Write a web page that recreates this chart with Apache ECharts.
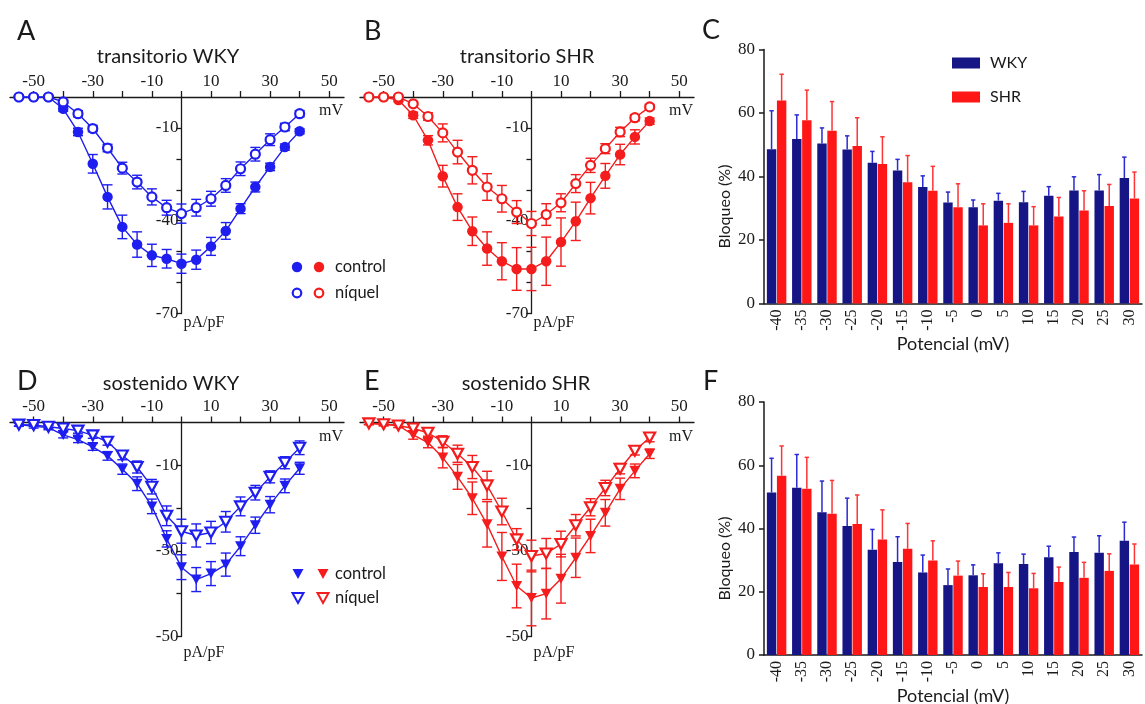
<!DOCTYPE html>
<html>
<head>
<meta charset="utf-8">
<script src="https://cdn.jsdelivr.net/npm/echarts@6/dist/echarts.min.js"></script>
<style>
html,body{margin:0;padding:0;background:#fff}
#main{width:1145px;height:704px}
</style>
</head>
<body>
<div id="main"></div>
<script>
// voltages (mV) for the I-V curves
var mV = [-55,-50,-45,-40,-35,-30,-25,-20,-15,-10,-5,0,5,10,15,20,25,30,35,40];
var ivXTicks = [-50,-40,-30,-20,-10,0,10,20,30,40,50];
var ivXLabels = [-50,-30,-10,10,30,50];

// A: transitorio WKY
var aCtrl = [0,0,0,-3.8,-11.3,-21.6,-32.3,-42,-47.7,-51.2,-52.3,-53.9,-52.6,-48.3,-43.3,-36.1,-29.1,-22.6,-16.2,-11.1];
var aCtrlErr = [0.3,0.3,0.5,0.8,1.2,3,3.9,3.8,4.1,3.6,3,3.1,3.1,2.9,2.7,1.6,1.6,1.2,1,0.8];
var aNiq = [0,0,0,-1.6,-5.4,-10.2,-16.5,-23,-27.5,-32.3,-35.8,-37.7,-35.8,-32.9,-28.6,-23.2,-18.5,-13.8,-9.7,-5.4];
var aNiqErr = [0.3,0.3,0.3,0.5,1,1,1.2,1.9,2.2,2.6,2.4,3.1,2.7,2.4,2.2,2.2,2.2,1.9,1.2,1];

// B: transitorio SHR
var bCtrl = [0,0,-1,-5.9,-14,-25.6,-35.6,-43.4,-49,-53.1,-55.6,-55.6,-53.1,-46.9,-40.2,-32.7,-25.5,-18.6,-12.9,-7.8];
var bCtrlErr = [0.3,0.3,0.5,1,1.5,3.5,4.3,4.6,5.4,6,6.9,7,7.8,7.8,6.2,5.1,4,3.3,2.3,1];
var bNiq = [0,0,0,-2.2,-6.3,-11.6,-17.8,-23.7,-29.1,-32.9,-37.2,-40.9,-38,-34.2,-28,-22.1,-16.7,-11.3,-6.7,-3.2];
var bNiqErr = [0.3,0.3,0.3,0.6,1.2,2.9,3.8,4.4,4.3,4.3,3.7,3.9,3.5,2.9,2.9,2.3,1.6,1.5,1,0.8];

// D: sostenido WKY
var dCtrl = [-0.5,-0.9,-1.2,-2.9,-4,-5.7,-7.8,-10.9,-14.3,-19.6,-27.2,-33.8,-36.7,-35.3,-33.2,-28.9,-24,-19.2,-14.8,-10.7];
var dCtrlErr = [0.4,0.4,0.5,0.7,0.7,0.8,1,1.2,1.6,1.7,1.9,2.9,2.8,2.8,2.7,2.2,1.9,1.9,1.6,1.4];
var dNiq = [-0.5,-0.6,-1,-1.4,-1.9,-3,-4.5,-7.7,-10.4,-15,-21.8,-25.4,-26.4,-25.7,-23.2,-19.6,-16.4,-12.7,-9.4,-5.9];
var dNiqErr = [0.3,0.3,0.4,0.5,0.6,0.7,0.8,1,1.4,1.7,2.3,2.8,2.7,2.6,2.4,2.2,1.7,1.4,1.4,1.6];

// E: sostenido SHR
var eCtrl = [-0.2,-0.4,-0.7,-2.9,-4.7,-8.2,-12.7,-17.7,-23.8,-31.3,-38.2,-41,-40,-36.5,-31.6,-26.5,-21.1,-15.5,-11.3,-7.3];
var eCtrlErr = [0.3,0.4,0.5,1,1.2,2.4,2.9,3.8,5.3,5.6,5.1,6.5,5.9,5.7,4.6,3.9,3.1,2.5,1.6,1.1];
var eNiq = [-0.2,-0.4,-0.7,-1.4,-2.4,-4.5,-7.3,-10.4,-14.7,-20.8,-27.3,-31.2,-30.6,-28.4,-24,-19.8,-15.3,-10.8,-6.6,-3.5];
var eNiqErr = [0.3,0.3,0.4,0.6,0.8,1.4,2,2.7,3.3,3.1,2.5,3.7,3.5,3,2.5,2,1.8,1.2,1,1];

// C / F: bloqueo (%) por potencial
var potCats = ['-40','-35','-30','-25','-20','-15','-10','-5','0','5','10','15','20','25','30'];
var cWky = [48.6,51.8,50.4,48.5,44.3,41.9,36.7,31.8,30.3,32.4,31.9,33.9,35.6,35.6,39.5];
var cWkyErr = [12.1,7.6,4.9,4.3,3.6,3.5,3.5,3.3,2.3,2.3,3.4,2.9,4.3,5.0,6.6];
var cShr = [63.9,57.7,54.4,49.6,43.9,38.2,35.5,30.3,24.6,25.4,24.6,27.4,29.3,30.7,33.1];
var cShrErr = [8.3,9.5,9.2,8.9,8.6,8.4,7.7,7.4,6.8,6,5.9,6,6.2,6.8,8.3];
var fWky = [51.4,52.9,45.1,40.8,33.3,29.4,26.1,22.1,25.2,29,28.8,30.9,32.6,32.3,36.1];
var fWkyErr = [10.8,10.5,9.9,8.8,6.4,8,5.5,5.1,3.3,3.3,3.1,3.5,4.7,5.4,5.9];
var fShr = [56.7,52.6,44.7,41.4,36.5,33.6,29.9,25.1,21.5,21.5,21.1,23.1,24.4,26.6,28.6];
var fShrErr = [9.4,9.9,10.5,9.2,9.4,8,6.2,4.6,4.2,4.6,4.7,4.7,4.9,5.4,6.5];

var BLUE = '#1e1ef0', RED = '#f41c1c';
var NAVY = '#151585', BARRED = '#ff1616';
var sans = 'Lato', serif = 'Liberation Serif';
var ink = '#1a1a1a';

var BAR_W = 9.4;
var IV_MIN = -58, IV_MAX = 55, IV_W = 334;
// the pA/pF axis sits on 0 mV
var yShift = -(0 - IV_MIN) / (IV_MAX - IV_MIN) * IV_W;

function ivX(g) {
  return {
    type: 'value', gridIndex: g, position: 'top', min: IV_MIN, max: IV_MAX,
    axisLine: {onZero: false, lineStyle: {color: ink, width: 1.3}},
    axisTick: {customValues: ivXTicks, length: 6, lineStyle: {color: ink, width: 1.3}},
    axisLabel: {customValues: ivXLabels, fontFamily: serif, fontSize: 17, color: ink, margin: 7},
    splitLine: {show: false},
    name: 'mV', nameLocation: 'end', nameGap: -1,
    nameTextStyle: {fontFamily: serif, fontSize: 16, color: ink, align: 'right', verticalAlign: 'top', padding: [6, 0, 0, 0]}
  };
}
function ivY(g, min, ticks, labels, gap) {
  return {
    type: 'value', gridIndex: g, min: min, max: 0, position: 'left', offset: yShift,
    axisLine: {onZero: false, lineStyle: {color: ink, width: 1.3}},
    axisTick: {customValues: ticks, length: 5, lineStyle: {color: ink, width: 1.3}},
    axisLabel: {customValues: labels, fontFamily: serif, fontSize: 17, color: ink, margin: 3},
    splitLine: {show: false},
    name: 'pA/pF', nameLocation: 'start', nameGap: gap,
    nameTextStyle: {fontFamily: serif, fontSize: 16, color: ink, align: 'left', verticalAlign: 'top', padding: [0, 0, 0, 2]}
  };
}
function barX(g) {
  return {
    type: 'category', gridIndex: g, data: potCats,
    axisLine: {lineStyle: {color: ink, width: 1.5}},
    axisTick: {show: false},
    axisLabel: {interval: 0, rotate: 90, fontFamily: serif, fontSize: 16, color: ink, margin: 6},
    name: 'Potencial (mV)', nameLocation: 'middle', nameGap: 32,
    nameTextStyle: {fontFamily: sans, fontSize: 18, color: ink}
  };
}
function barY(g) {
  return {
    type: 'value', gridIndex: g, min: 0, max: 80, interval: 20,
    axisLine: {show: true, lineStyle: {color: ink, width: 1.5}},
    axisTick: {show: true, length: 5, lineStyle: {color: ink, width: 1.5}},
    axisLabel: {fontFamily: serif, fontSize: 17, color: ink, margin: 9},
    splitLine: {show: false},
    name: 'Bloqueo (%)', nameLocation: 'middle', nameGap: 31,
    nameTextStyle: {fontFamily: sans, fontSize: 16, color: ink, padding: [0, 60, 0, 0]}
  };
}

function pairs(vals) { return mV.map(function (x, i) { return [x, vals[i]]; }); }
function triples(vals, errs) { return mV.map(function (x, i) { return [x, vals[i], errs[i]]; }); }

function ivLine(g, name, vals, color, open, tri) {
  return {
    type: 'line', name: name, xAxisIndex: g, yAxisIndex: g, data: pairs(vals),
    symbol: tri ? 'triangle' : 'circle', symbolRotate: tri ? 180 : 0,
    symbolSize: tri ? [11, 10] : (open ? 9 : 10.5),
    showAllSymbol: true, z: open ? 4 : 3,
    lineStyle: {color: color, width: 1.4},
    itemStyle: open ? {color: '#fff', borderColor: color, borderWidth: 2.2} : {color: color, borderWidth: 0},
    emphasis: {disabled: true}
  };
}
function ivErr(g, vals, errs, color) {
  return {
    type: 'custom', xAxisIndex: g, yAxisIndex: g, data: triples(vals, errs), z: 2,
    renderItem: function (params, api) {
      var x = api.value(0), y = api.value(1), e = api.value(2);
      var hi = api.coord([x, y + e]), lo = api.coord([x, y - e]);
      var w = 5, st = {stroke: color, lineWidth: 1.4};
      return {type: 'group', children: [
        {type: 'line', shape: {x1: hi[0], y1: hi[1], x2: lo[0], y2: lo[1]}, style: st},
        {type: 'line', shape: {x1: hi[0] - w, y1: hi[1], x2: hi[0] + w, y2: hi[1]}, style: st},
        {type: 'line', shape: {x1: lo[0] - w, y1: lo[1], x2: lo[0] + w, y2: lo[1]}, style: st}
      ]};
    }
  };
}
function barSeries(g, name, vals, color) {
  return {
    type: 'bar', name: name, xAxisIndex: g, yAxisIndex: g, data: vals,
    barWidth: BAR_W, barGap: '7%', itemStyle: {color: color}, z: 2,
    emphasis: {disabled: true}
  };
}
function barErr(g, vals, errs, color, off) {
  var d = vals.map(function (v, i) { return [i, v, errs[i]]; });
  return {
    type: 'custom', xAxisIndex: g, yAxisIndex: g, data: d, z: 3,
    encode: {x: 0, y: 1},
    renderItem: function (params, api) {
      var i = api.value(0), v = api.value(1), e = api.value(2);
      var base = api.coord([i, v]), top = api.coord([i, v + e]);
      var cx = base[0] + off, st = {stroke: color, lineWidth: 1.5};
      return {type: 'group', children: [
        {type: 'line', shape: {x1: cx, y1: base[1], x2: cx, y2: top[1]}, style: st},
        {type: 'line', shape: {x1: cx - 2.2, y1: top[1], x2: cx + 2.2, y2: top[1]}, style: st}
      ]};
    }
  };
}

var barOff = (BAR_W * 2 + BAR_W * 0.07) / 2 - BAR_W / 2;

function txt(text, x, y, size, align) {
  return {type: 'text', x: x, y: y, style: {text: text, font: size + 'px ' + sans, fill: ink,
    textAlign: align || 'left', textVerticalAlign: 'middle'}};
}
function dot(x, y, color, open) {
  return {type: 'circle', shape: {cx: x, cy: y, r: open ? 4.3 : 5.2},
    style: open ? {fill: '#fff', stroke: color, lineWidth: 2.2} : {fill: color}};
}
function tri(x, y, color, open) {
  return {type: 'polygon', shape: {points: [[x - 5.5, y - 5], [x + 5.5, y - 5], [x, y + 5]]},
    style: open ? {fill: '#fff', stroke: color, lineWidth: 2} : {fill: color}};
}

var option = {
  animation: false,
  backgroundColor: '#fff',
  grid: [
    {left: 10, top: 97, width: IV_W, height: 216.5, outerBoundsMode: 'none', containLabel: false},
    {left: 360, top: 97, width: IV_W, height: 216.5, outerBoundsMode: 'none', containLabel: false},
    {left: 10, top: 422.5, width: IV_W, height: 214, outerBoundsMode: 'none', containLabel: false},
    {left: 360, top: 422.5, width: IV_W, height: 214, outerBoundsMode: 'none', containLabel: false},
    {left: 764, top: 49.5, width: 378, height: 254, outerBoundsMode: 'none', containLabel: false},
    {left: 764, top: 402, width: 378, height: 253, outerBoundsMode: 'none', containLabel: false}
  ],
  xAxis: [ivX(0), ivX(1), ivX(2), ivX(3), barX(4), barX(5)],
  yAxis: [
    ivY(0, -70, [-10,-20,-30,-40,-50,-60,-70], [-10,-40,-70], 1),
    ivY(1, -70, [-10,-20,-30,-40,-50,-60,-70], [-10,-40,-70], 1),
    ivY(2, -50, [-10,-20,-30,-40,-50], [-10,-30,-50], 8),
    ivY(3, -50, [-10,-20,-30,-40,-50], [-10,-30,-50], 8),
    barY(4), barY(5)
  ],
  legend: {
    data: ['WKY', 'SHR'], orient: 'vertical', left: 952, top: 55,
    itemWidth: 28, itemHeight: 11, itemGap: 18, icon: 'rect', padding: 0,
    textStyle: {fontFamily: sans, fontSize: 16, color: ink, padding: [0, 0, 0, 5]},
    selectedMode: false
  },
  graphic: {elements: [
    txt('A', 17, 31, 27), txt('B', 364, 31, 27), txt('C', 702, 30, 27),
    txt('D', 17, 381, 27), txt('E', 364, 381, 27), txt('F', 703, 381, 27),
    txt('transitorio WKY', 168, 57, 20, 'center'),
    txt('transitorio SHR', 527, 57, 20, 'center'),
    txt('sostenido WKY', 171, 384, 20, 'center'),
    txt('sostenido SHR', 526, 384, 20, 'center'),
    dot(297, 267, BLUE, false), dot(319, 267, RED, false), txt('control', 335, 267, 16.5),
    dot(297, 293, BLUE, true), dot(319, 293, RED, true), txt('níquel', 335, 293, 16.5),
    tri(298, 574, BLUE, false), tri(323, 574, RED, false), txt('control', 335, 574, 16.5),
    tri(298, 598, BLUE, true), tri(323, 598, RED, true), txt('níquel', 335, 598, 16.5)
  ]},
  series: [
    ivErr(0, aCtrl, aCtrlErr, BLUE), ivErr(0, aNiq, aNiqErr, BLUE),
    ivLine(0, 'control', aCtrl, BLUE, false, false), ivLine(0, 'níquel', aNiq, BLUE, true, false),
    ivErr(1, bCtrl, bCtrlErr, RED), ivErr(1, bNiq, bNiqErr, RED),
    ivLine(1, 'control', bCtrl, RED, false, false), ivLine(1, 'níquel', bNiq, RED, true, false),
    ivErr(2, dCtrl, dCtrlErr, BLUE), ivErr(2, dNiq, dNiqErr, BLUE),
    ivLine(2, 'control', dCtrl, BLUE, false, true), ivLine(2, 'níquel', dNiq, BLUE, true, true),
    ivErr(3, eCtrl, eCtrlErr, RED), ivErr(3, eNiq, eNiqErr, RED),
    ivLine(3, 'control', eCtrl, RED, false, true), ivLine(3, 'níquel', eNiq, RED, true, true),
    barSeries(4, 'WKY', cWky, NAVY), barSeries(4, 'SHR', cShr, BARRED),
    barErr(4, cWky, cWkyErr, '#2a2ad2', -barOff), barErr(4, cShr, cShrErr, '#ff3434', barOff),
    barSeries(5, 'WKY', fWky, NAVY), barSeries(5, 'SHR', fShr, BARRED),
    barErr(5, fWky, fWkyErr, '#2a2ad2', -barOff), barErr(5, fShr, fShrErr, '#ff3434', barOff)
  ]
};

var chart = echarts.init(document.getElementById('main'));
chart.setOption(option);
</script>
</body>
</html>
